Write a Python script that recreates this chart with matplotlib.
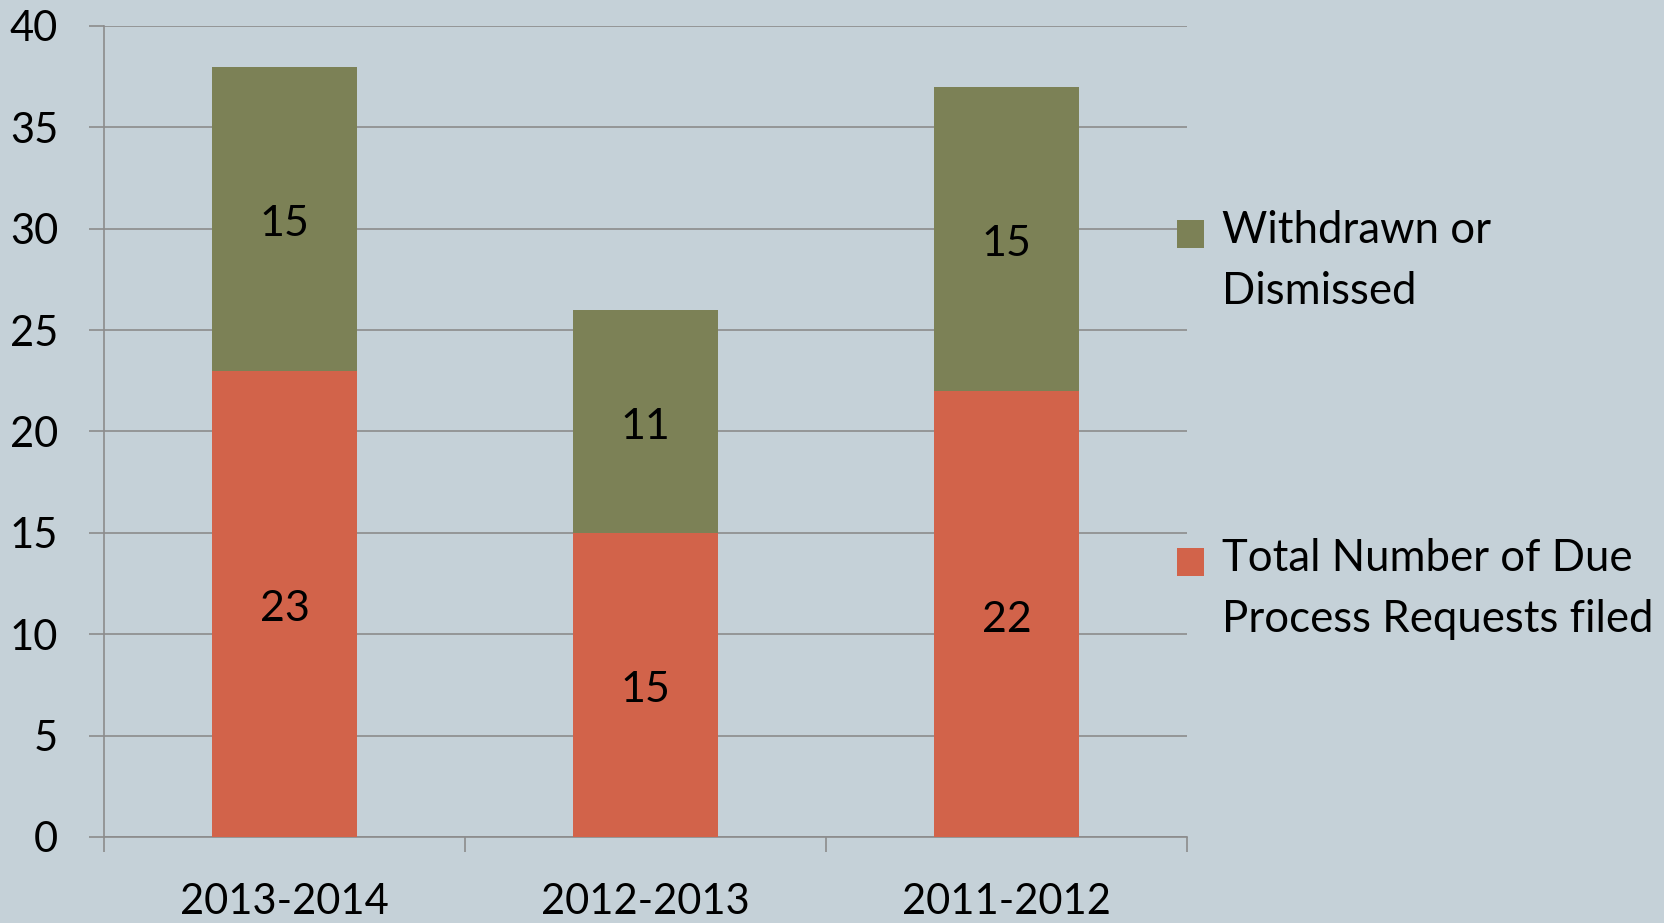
import matplotlib
matplotlib.use("Agg")
import matplotlib.pyplot as plt
import numpy as np

# school years and case counts
years = ["2013-2014", "2012-2013", "2011-2012"]
filed = [23, 15, 22]
withdrawn = [15, 11, 15]

bg = "#C5D1D8"
red = "#D2634A"
green = "#7C8156"
grid = "#8C8C8C"

plt.rcParams["font.family"] = ["Lato", "DejaVu Sans"]
plt.rcParams["font.size"] = 30

fig = plt.figure(figsize=(16.64, 9.23), dpi=100, facecolor=bg)
ax = fig.add_axes([104 / 1664, 86 / 923, 1083 / 1664, 811 / 923])
ax.set_facecolor(bg)

x = np.arange(len(years))
b1 = ax.bar(x, filed, width=0.4, color=red, label="Total Number of Due\nProcess Requests filed", zorder=3)
b2 = ax.bar(x, withdrawn, width=0.4, bottom=filed, color=green, label="Withdrawn or\nDismissed", zorder=3)

# value labels in the middle of each segment
for xi, f, w in zip(x, filed, withdrawn):
    ax.text(xi, f / 2 - 0.1, str(f), ha="center", va="center_baseline", fontsize=31, zorder=4)
    ax.text(xi, f + w / 2 - 0.1, str(w), ha="center", va="center_baseline", fontsize=31, zorder=4)

ax.set_xlim(-0.5, len(years) - 0.5)
ax.set_ylim(0, 40)
ax.set_yticks(range(0, 41, 5))
ax.yaxis.grid(True, color=grid, linewidth=1.2, zorder=0)
ax.set_axisbelow(True)

ax.set_xticks(x)
ax.set_xticklabels(years)
ax.set_xticks(np.arange(-0.5, len(years)), minor=True)
ax.tick_params(axis="x", which="major", length=0, pad=33)
ax.tick_params(axis="x", which="minor", length=11, width=1.2, color=grid)
ax.tick_params(axis="y", length=11, width=1.2, color=grid, pad=22)

for side in ["top", "right"]:
    ax.spines[side].set_visible(False)
for side in ["left", "bottom"]:
    ax.spines[side].set_color(grid)
    ax.spines[side].set_linewidth(1.2)

# two separate legend entries, placed apart, square level with the first line
legs = []
for bar, yc in [(b2, 261), (b1, 589)]:
    leg = fig.legend([bar], [bar.get_label()], loc="center left",
                     bbox_to_anchor=(1177 / 1664, 1 - yc / 923), frameon=False,
                     handlelength=0.62, handleheight=0.62, handletextpad=0.4,
                     fontsize=31.5, borderpad=0, borderaxespad=0)
    for t in leg.get_texts():
        t.set_linespacing(1.6)
    h = leg.legend_handles[0]
    h.set_y(h.get_y() + 20)
    legs.append(leg)

fig.savefig("out.png", dpi=100, facecolor=bg)
